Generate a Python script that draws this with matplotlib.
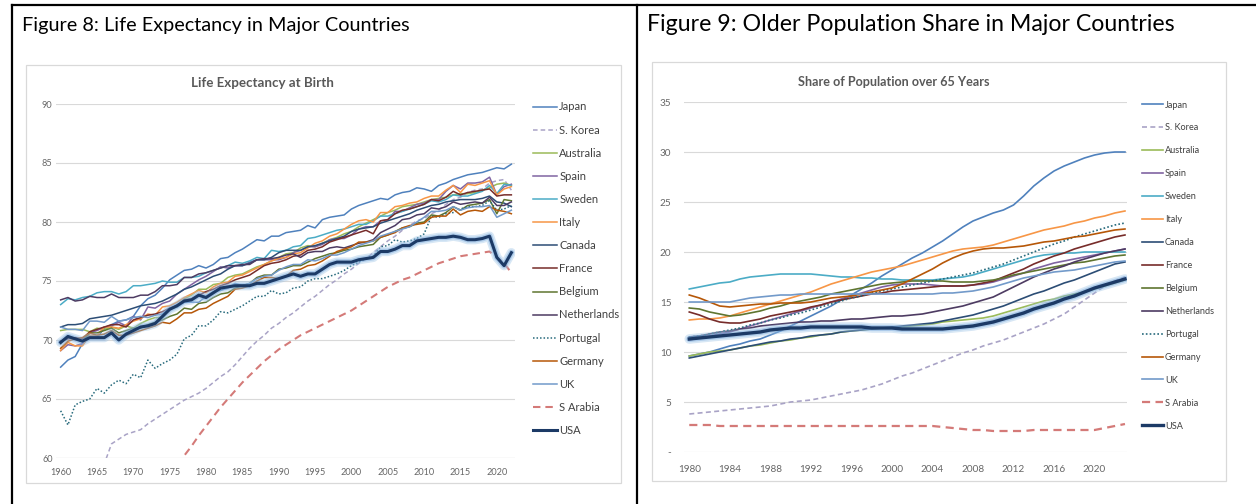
import matplotlib
matplotlib.use('Agg')
import matplotlib.pyplot as plt
from matplotlib.lines import Line2D
from matplotlib.patches import Rectangle
from matplotlib.ticker import FuncFormatter

plt.rcParams['font.family'] = ['Lato', 'DejaVu Sans']

# ---------------- data ----------------
countries = ['Japan', 'S. Korea', 'Australia', 'Spain', 'Sweden', 'Italy', 'Canada',
             'France', 'Belgium', 'Netherlands', 'Portugal', 'Germany', 'UK',
             'S Arabia', 'USA']

le_years = list(range(1960, 2023))
le_japan = [67.7, 68.3, 68.6, 69.7, 70.2, 70.2, 71.0, 71.3, 71.6, 71.7,
            72.0, 72.9, 73.5, 73.8, 74.4, 75.1, 75.5, 75.9, 76.0, 76.3,
            76.1, 76.4, 76.9, 77.0, 77.4, 77.7, 78.1, 78.5, 78.4, 78.8,
            78.8, 79.1, 79.2, 79.3, 79.7, 79.5, 80.2, 80.4, 80.5, 80.6,
            81.1, 81.4, 81.6, 81.8, 82.0, 81.9, 82.3, 82.5, 82.6, 82.9,
            82.8, 82.6, 83.1, 83.3, 83.6, 83.8, 84.0, 84.1, 84.2, 84.4,
            84.6, 84.5, 84.9]
le_skorea = [55.4, 56.1, 56.8, 57.5, 58.1, 58.8, 59.5, 61.2, 61.6, 62.0,
             62.2, 62.4, 62.9, 63.3, 63.7, 64.1, 64.5, 64.9, 65.2, 65.5,
             65.9, 66.4, 66.9, 67.3, 67.9, 68.6, 69.3, 69.9, 70.4, 71.0,
             71.4, 71.9, 72.3, 72.8, 73.3, 73.7, 74.2, 74.7, 75.1, 75.6,
             76.0, 76.5, 76.9, 77.4, 77.9, 78.4, 78.8, 79.3, 79.7, 80.1,
             80.3, 80.7, 81.0, 81.5, 81.9, 82.1, 82.5, 82.7, 82.8, 83.3,
             83.5, 83.6, 82.7]
le_australia = [70.8, 70.9, 70.9, 70.9, 70.7, 71.0, 70.9, 71.1, 70.9, 71.2,
                71.0, 71.4, 71.7, 71.9, 71.9, 72.6, 72.8, 73.5, 73.8, 74.3,
                74.3, 74.7, 74.8, 75.3, 75.5, 75.6, 75.9, 76.2, 76.4, 76.7,
                77.0, 77.3, 77.4, 77.8, 78.0, 77.9, 78.2, 78.5, 78.7, 79.0,
                79.2, 79.6, 79.9, 80.2, 80.5, 80.8, 81.0, 81.3, 81.4, 81.5,
                81.7, 81.9, 82.0, 82.1, 82.3, 82.4, 82.4, 82.5, 82.7, 82.9,
                83.2, 83.3, 83.1]
le_spain = [69.1, 69.6, 69.5, 69.7, 70.6, 70.8, 71.1, 71.2, 71.5, 71.2,
            72.0, 71.7, 72.8, 72.7, 73.1, 73.3, 73.9, 74.3, 74.7, 75.1,
            75.4, 75.8, 76.2, 76.1, 76.3, 76.3, 76.6, 76.8, 76.8, 76.8,
            76.8, 77.0, 77.4, 77.6, 77.9, 77.9, 78.1, 78.5, 78.6, 78.6,
            78.9, 79.4, 79.6, 79.6, 80.1, 80.2, 80.9, 80.9, 81.2, 81.5,
            81.6, 81.9, 81.9, 82.6, 83.1, 82.8, 83.3, 83.3, 83.4, 83.8,
            82.3, 83.0, 83.2]
le_sweden = [73.0, 73.5, 73.4, 73.6, 73.7, 74.0, 74.1, 74.1, 73.9, 74.1,
             74.6, 74.6, 74.7, 74.8, 75.0, 74.9, 74.9, 75.3, 75.3, 75.4,
             75.7, 75.9, 76.1, 76.3, 76.6, 76.5, 76.7, 77.0, 76.9, 77.6,
             77.5, 77.6, 77.9, 78.0, 78.6, 78.7, 78.9, 79.1, 79.3, 79.4,
             79.6, 79.8, 79.8, 80.1, 80.5, 80.5, 80.7, 80.9, 81.1, 81.3,
             81.5, 81.8, 81.7, 81.9, 82.3, 82.2, 82.2, 82.4, 82.6, 83.1,
             82.4, 83.2, 83.1]
le_italy = [69.1, 69.8, 69.5, 69.5, 70.4, 70.4, 71.1, 71.1, 71.0, 71.3,
            71.6, 71.8, 72.2, 72.1, 72.8, 72.9, 73.2, 73.6, 73.9, 74.2,
            74.0, 74.5, 74.8, 74.9, 75.4, 75.5, 75.8, 76.1, 76.4, 76.7,
            76.9, 77.0, 77.3, 77.4, 77.8, 78.2, 78.4, 78.8, 79.0, 79.4,
            79.8, 80.1, 80.2, 80.0, 80.8, 80.8, 81.3, 81.4, 81.6, 81.7,
            82.0, 82.2, 82.2, 82.7, 83.1, 82.5, 83.2, 83.1, 83.3, 83.5,
            82.3, 82.8, 83.0]
le_canada = [71.1, 71.3, 71.3, 71.4, 71.8, 71.9, 72.0, 72.1, 72.3, 72.5,
             72.7, 72.9, 73.0, 73.1, 73.3, 73.6, 73.9, 74.3, 74.5, 74.8,
             75.1, 75.4, 75.6, 76.0, 76.3, 76.3, 76.5, 76.8, 76.8, 77.0,
             77.4, 77.6, 77.6, 77.6, 77.9, 78.0, 78.2, 78.4, 78.6, 78.8,
             79.2, 79.4, 79.5, 79.6, 79.9, 80.1, 80.3, 80.5, 80.7, 81.0,
             81.2, 81.4, 81.5, 81.7, 81.8, 81.9, 81.9, 81.9, 82.0, 82.2,
             81.7, 81.6, 81.3]
le_france = [69.9, 70.1, 70.2, 70.1, 70.7, 70.9, 71.1, 71.3, 71.3, 71.1,
             71.7, 71.9, 72.1, 72.2, 72.4, 72.7, 72.9, 73.4, 73.5, 73.8,
             74.1, 74.3, 74.6, 74.8, 75.1, 75.3, 75.5, 75.9, 76.3, 76.5,
             76.6, 76.8, 77.1, 77.2, 77.6, 77.7, 77.9, 78.3, 78.5, 78.7,
             78.9, 79.1, 79.3, 79.0, 80.1, 80.2, 80.7, 81.0, 81.1, 81.3,
             81.5, 81.9, 81.8, 82.1, 82.6, 82.3, 82.5, 82.6, 82.7, 82.8,
             82.2, 82.3, 82.3]
le_belgium = [69.7, 70.3, 70.1, 69.9, 70.6, 70.6, 70.8, 71.0, 70.6, 70.8,
              71.0, 71.0, 71.3, 71.5, 71.7, 72.0, 72.2, 72.7, 72.6, 73.1,
              73.2, 73.6, 73.9, 74.0, 74.4, 74.6, 74.8, 75.3, 75.5, 75.5,
              76.0, 76.1, 76.3, 76.3, 76.6, 76.9, 77.1, 77.3, 77.4, 77.6,
              77.7, 77.9, 78.0, 78.1, 78.7, 78.9, 79.2, 79.5, 79.6, 79.9,
              80.0, 80.6, 80.5, 80.8, 81.3, 81.0, 81.4, 81.5, 81.6, 81.9,
              80.7, 81.9, 81.8]
le_netherlands = [73.4, 73.6, 73.3, 73.4, 73.7, 73.6, 73.6, 73.9, 73.6, 73.6,
                  73.6, 73.8, 73.8, 74.1, 74.6, 74.6, 74.7, 75.3, 75.3, 75.6,
                  75.7, 75.9, 76.1, 76.3, 76.3, 76.4, 76.4, 76.8, 76.9, 76.9,
                  77.0, 77.2, 77.3, 77.0, 77.4, 77.5, 77.5, 77.8, 77.9, 77.8,
                  78.0, 78.2, 78.3, 78.5, 79.1, 79.4, 79.7, 80.2, 80.3, 80.6,
                  80.7, 81.2, 81.1, 81.3, 81.7, 81.5, 81.6, 81.7, 81.6, 82.1,
                  81.4, 81.4, 81.7]
le_portugal = [64.0, 62.8, 64.5, 64.8, 65.0, 65.9, 65.5, 66.2, 66.6, 66.3,
               67.1, 66.8, 68.3, 67.6, 68.0, 68.3, 68.8, 70.1, 70.4, 71.2,
               71.2, 71.7, 72.4, 72.3, 72.6, 72.9, 73.3, 73.7, 73.7, 74.2,
               73.9, 74.0, 74.4, 74.5, 75.0, 75.2, 75.2, 75.4, 75.6, 75.9,
               76.3, 76.6, 76.9, 77.1, 77.9, 78.0, 78.5, 78.3, 78.4, 78.6,
               79.0, 80.5, 80.4, 80.7, 80.8, 81.1, 81.3, 81.3, 81.4, 81.8,
               81.0, 81.1, 81.4]
le_germany = [69.3, 69.9, 70.1, 70.2, 70.6, 70.4, 70.5, 70.8, 70.4, 70.4,
              70.6, 70.8, 71.0, 71.2, 71.5, 71.4, 71.8, 72.3, 72.3, 72.6,
              72.7, 73.1, 73.4, 73.7, 74.3, 74.4, 74.6, 75.0, 75.3, 75.3,
              75.2, 75.4, 75.9, 76.0, 76.3, 76.4, 76.7, 77.1, 77.5, 77.7,
              77.9, 78.3, 78.3, 78.4, 78.7, 78.9, 79.1, 79.5, 79.7, 79.8,
              79.9, 80.4, 80.5, 80.5, 81.1, 80.6, 80.9, 81.0, 80.9, 81.3,
              81.0, 80.9, 80.7]
le_uk = [71.1, 70.9, 70.9, 70.8, 71.6, 71.6, 71.5, 72.0, 71.6, 71.7,
         71.9, 72.0, 71.9, 72.1, 72.2, 72.7, 72.8, 73.2, 73.2, 73.2,
         73.7, 74.1, 74.2, 74.4, 74.8, 74.6, 74.8, 75.2, 75.4, 75.5,
         75.9, 76.2, 76.4, 76.4, 76.8, 76.7, 76.9, 77.2, 77.2, 77.4,
         77.7, 78.0, 78.2, 78.4, 78.8, 79.0, 79.2, 79.4, 79.6, 80.0,
         80.4, 80.9, 80.9, 81.0, 81.3, 81.0, 81.2, 81.3, 81.3, 81.4,
         80.4, 80.7, 81.0]
le_sarabia = [45.7, 46.3, 46.9, 47.6, 48.4, 49.2, 50.1, 51.0, 52.0, 53.0,
              53.9, 54.9, 55.9, 56.8, 57.7, 58.6, 59.4, 60.2, 61.0, 61.9,
              62.7, 63.5, 64.3, 65.0, 65.7, 66.4, 67.0, 67.6, 68.2, 68.7,
              69.2, 69.6, 70.0, 70.4, 70.7, 71.0, 71.3, 71.6, 71.9, 72.2,
              72.5, 72.9, 73.3, 73.7, 74.1, 74.5, 74.8, 75.1, 75.3, 75.6,
              75.9, 76.2, 76.5, 76.7, 76.9, 77.1, 77.2, 77.3, 77.4, 77.5,
              77.0, 76.5, 75.7]
le_usa = [69.8, 70.3, 70.1, 69.9, 70.2, 70.2, 70.2, 70.6, 70.0, 70.5,
          70.8, 71.1, 71.2, 71.4, 72.0, 72.6, 72.9, 73.3, 73.4, 73.8,
          73.6, 74.0, 74.4, 74.5, 74.6, 74.6, 74.6, 74.8, 74.8, 75.0,
          75.2, 75.4, 75.6, 75.4, 75.6, 75.6, 76.0, 76.4, 76.6, 76.6,
          76.6, 76.8, 76.9, 77.0, 77.5, 77.5, 77.7, 78.0, 78.0, 78.4,
          78.5, 78.6, 78.7, 78.7, 78.8, 78.7, 78.5, 78.5, 78.6, 78.8,
          77.0, 76.3, 77.4]

pop_years = list(range(1980, 2024))
pop_japan = [9.6, 9.8, 10.0, 10.3, 10.6, 10.8, 11.1, 11.3, 11.7, 12.1,
             12.6, 13.1, 13.6, 14.1, 14.6, 15.2, 15.7, 16.3, 16.9, 17.6,
             18.2, 18.8, 19.4, 19.9, 20.5, 21.1, 21.8, 22.5, 23.1, 23.5,
             23.9, 24.2, 24.7, 25.6, 26.6, 27.4, 28.1, 28.6, 29.0, 29.4,
             29.7, 29.9, 30.0, 30.0]
pop_skorea = [3.8, 3.9, 4.0, 4.1, 4.2, 4.3, 4.4, 4.5, 4.6, 4.8,
              5.0, 5.1, 5.2, 5.4, 5.6, 5.8, 6.0, 6.2, 6.5, 6.8,
              7.2, 7.6, 7.9, 8.3, 8.7, 9.1, 9.5, 9.9, 10.2, 10.6,
              10.9, 11.2, 11.6, 12.0, 12.4, 12.8, 13.3, 13.8, 14.5, 15.2,
              15.9, 16.6, 17.1, 17.5]
pop_australia = [9.6, 9.8, 10.0, 10.1, 10.2, 10.4, 10.6, 10.7, 10.9, 11.1,
                 11.2, 11.4, 11.5, 11.7, 11.8, 12.0, 12.1, 12.2, 12.3, 12.4,
                 12.4, 12.5, 12.6, 12.7, 12.8, 13.0, 13.1, 13.2, 13.3, 13.4,
                 13.6, 13.9, 14.2, 14.5, 14.8, 15.1, 15.3, 15.6, 15.8, 16.0,
                 16.3, 16.6, 16.9, 17.2]
pop_spain = [11.2, 11.4, 11.6, 11.8, 12.0, 12.3, 12.6, 12.9, 13.2, 13.5,
             13.8, 14.1, 14.4, 14.7, 15.0, 15.3, 15.6, 15.9, 16.2, 16.5,
             16.7, 16.8, 16.8, 16.8, 16.7, 16.6, 16.6, 16.6, 16.7, 16.8,
             17.0, 17.3, 17.6, 17.9, 18.3, 18.6, 18.9, 19.1, 19.3, 19.5,
             19.7, 19.9, 20.1, 20.3]
pop_sweden = [16.3, 16.5, 16.7, 16.9, 17.0, 17.3, 17.5, 17.6, 17.7, 17.8,
              17.8, 17.8, 17.8, 17.7, 17.6, 17.5, 17.5, 17.4, 17.4, 17.3,
              17.3, 17.2, 17.2, 17.2, 17.2, 17.3, 17.4, 17.5, 17.7, 18.0,
              18.3, 18.6, 18.9, 19.2, 19.5, 19.7, 19.8, 19.9, 19.9, 20.0,
              20.0, 20.0, 20.0, 20.0]
pop_italy = [13.2, 13.3, 13.3, 13.4, 13.6, 13.9, 14.2, 14.5, 14.8, 15.1,
             15.4, 15.7, 16.0, 16.4, 16.8, 17.1, 17.4, 17.7, 18.0, 18.2,
             18.4, 18.6, 18.9, 19.2, 19.5, 19.8, 20.1, 20.3, 20.4, 20.5,
             20.7, 21.0, 21.3, 21.6, 21.9, 22.2, 22.4, 22.6, 22.9, 23.1,
             23.4, 23.6, 23.9, 24.1]
pop_canada = [9.4, 9.6, 9.8, 10.0, 10.2, 10.4, 10.6, 10.8, 11.0, 11.1,
              11.3, 11.4, 11.6, 11.7, 11.8, 12.0, 12.1, 12.2, 12.3, 12.4,
              12.5, 12.6, 12.7, 12.8, 12.9, 13.1, 13.3, 13.5, 13.7, 14.0,
              14.3, 14.6, 15.0, 15.4, 15.8, 16.1, 16.5, 16.9, 17.2, 17.6,
              18.0, 18.4, 18.8, 19.0]
pop_france = [14.0, 13.7, 13.3, 13.0, 12.9, 12.9, 13.1, 13.3, 13.6, 13.8,
              14.0, 14.2, 14.5, 14.7, 15.0, 15.2, 15.4, 15.6, 15.8, 15.9,
              16.1, 16.2, 16.3, 16.4, 16.5, 16.6, 16.6, 16.6, 16.7, 16.9,
              17.1, 17.5, 17.9, 18.3, 18.8, 19.2, 19.6, 19.9, 20.3, 20.6,
              20.9, 21.2, 21.5, 21.7]
pop_belgium = [14.4, 14.3, 14.0, 13.8, 13.6, 13.7, 13.9, 14.1, 14.4, 14.6,
               14.9, 15.1, 15.3, 15.5, 15.8, 16.0, 16.2, 16.4, 16.6, 16.8,
               16.9, 17.0, 17.1, 17.1, 17.1, 17.1, 17.0, 17.0, 17.0, 17.1,
               17.2, 17.4, 17.7, 17.9, 18.1, 18.3, 18.5, 18.7, 18.9, 19.0,
               19.2, 19.4, 19.6, 19.7]
pop_netherlands = [11.5, 11.6, 11.8, 12.0, 12.1, 12.3, 12.4, 12.6, 12.7, 12.8,
                   12.9, 13.0, 13.0, 13.1, 13.1, 13.2, 13.3, 13.3, 13.4, 13.5,
                   13.6, 13.6, 13.7, 13.8, 14.0, 14.2, 14.4, 14.6, 14.9, 15.2,
                   15.5, 16.0, 16.5, 17.0, 17.5, 17.9, 18.3, 18.6, 19.0, 19.3,
                   19.6, 19.9, 20.1, 20.3]
pop_portugal = [11.5, 11.6, 11.8, 12.0, 12.2, 12.4, 12.7, 12.9, 13.2, 13.4,
                13.7, 13.9, 14.2, 14.5, 14.8, 15.1, 15.4, 15.6, 15.9, 16.1,
                16.3, 16.5, 16.7, 16.9, 17.1, 17.3, 17.5, 17.7, 17.9, 18.2,
                18.5, 18.8, 19.2, 19.6, 20.0, 20.4, 20.8, 21.1, 21.5, 21.8,
                22.1, 22.4, 22.7, 22.9]
pop_germany = [15.7, 15.4, 15.0, 14.6, 14.5, 14.6, 14.7, 14.8, 14.8, 14.9,
               14.9, 14.9, 15.0, 15.2, 15.4, 15.5, 15.6, 15.8, 16.0, 16.2,
               16.4, 16.8, 17.3, 17.8, 18.3, 18.9, 19.4, 19.8, 20.1, 20.3,
               20.4, 20.4, 20.5, 20.6, 20.8, 21.0, 21.1, 21.3, 21.5, 21.6,
               21.8, 22.0, 22.2, 22.3]
pop_uk = [15.0, 15.0, 15.0, 15.0, 15.0, 15.2, 15.4, 15.5, 15.6, 15.7,
          15.7, 15.8, 15.8, 15.8, 15.8, 15.8, 15.8, 15.8, 15.8, 15.8,
          15.8, 15.8, 15.8, 15.8, 15.8, 15.9, 15.9, 16.0, 16.1, 16.3,
          16.5, 16.8, 17.1, 17.4, 17.6, 17.8, 18.0, 18.1, 18.2, 18.4,
          18.6, 18.8, 19.0, 19.1]
pop_sarabia = [2.7, 2.7, 2.7, 2.6, 2.6, 2.6, 2.6, 2.6, 2.6, 2.6,
               2.6, 2.6, 2.6, 2.6, 2.6, 2.6, 2.6, 2.6, 2.6, 2.6,
               2.6, 2.6, 2.6, 2.6, 2.6, 2.5, 2.4, 2.3, 2.2, 2.2,
               2.1, 2.1, 2.1, 2.1, 2.2, 2.2, 2.2, 2.2, 2.2, 2.2,
               2.2, 2.4, 2.6, 2.8]
pop_usa = [11.3, 11.4, 11.5, 11.6, 11.7, 11.8, 11.9, 12.0, 12.2, 12.3,
           12.4, 12.4, 12.5, 12.5, 12.5, 12.5, 12.5, 12.5, 12.4, 12.4,
           12.4, 12.3, 12.3, 12.3, 12.3, 12.3, 12.4, 12.5, 12.6, 12.8,
           13.0, 13.3, 13.6, 13.9, 14.3, 14.6, 14.9, 15.3, 15.6, 16.0,
           16.4, 16.7, 17.0, 17.3]

le_series = [le_japan, le_skorea, le_australia, le_spain, le_sweden, le_italy,
             le_canada, le_france, le_belgium, le_netherlands, le_portugal,
             le_germany, le_uk, le_sarabia, le_usa]
pop_series = [pop_japan, pop_skorea, pop_australia, pop_spain, pop_sweden, pop_italy,
              pop_canada, pop_france, pop_belgium, pop_netherlands, pop_portugal,
              pop_germany, pop_uk, pop_sarabia, pop_usa]

le_yticks = [60, 65, 70, 75, 80, 85, 90]
le_xticks = list(range(1960, 2021, 5))
pop_yticks = [0, 5, 10, 15, 20, 25, 30, 35]
pop_xticks = list(range(1980, 2021, 4))

# ---------------- styles ----------------
colors = {'Japan': '#4F81BD', 'S. Korea': '#A9A3C6', 'Australia': '#9BBB59',
          'Spain': '#8064A2', 'Sweden': '#4BACC6', 'Italy': '#F79646',
          'Canada': '#2C4D75', 'France': '#772C2A', 'Belgium': '#5F7530',
          'Netherlands': '#4D3B62', 'Portugal': '#276A7C', 'Germany': '#B65708',
          'UK': '#729ACA', 'S Arabia': '#D47A78', 'USA': '#1C3A66'}
dashes = {'S. Korea': (3, 2), 'Portugal': (1, 1.3), 'S Arabia': (3.6, 2.4)}

W, H = 1256, 504
fig = plt.figure(figsize=(W / 100, H / 100), dpi=100)
fig.patch.set_facecolor('white')


def fx(px):
    return px / W


def fy(py):
    return 1 - py / H


# outer black frame lines
for xs, ys in [((12, 1256), (5, 5)), ((12, 12), (5, 504)), ((637, 637), (5, 504))]:
    fig.add_artist(Line2D([fx(xs[0]), fx(xs[1])], [fy(ys[0]), fy(ys[1])],
                          transform=fig.transFigure, color='black', lw=1.6))

# chart frames
for (x0, y0, x1, y1) in [(26, 65, 621, 483), (652, 62, 1226, 481)]:
    fig.add_artist(Rectangle((fx(x0), fy(y1)), fx(x1 - x0), (y1 - y0) / H,
                             transform=fig.transFigure, fill=False,
                             edgecolor='#D9D9D9', lw=0.9))

renderer = fig.canvas.get_renderer()


def fit_text(x, y, s, target_w, **kw):
    t = fig.text(x, y, s, **kw)
    w = t.get_window_extent(renderer=renderer).width
    t.set_fontsize(t.get_fontsize() * target_w / w)
    return t


fit_text(fx(22), fy(31), 'Figure 8: Life Expectancy in Major Countries', 388,
         fontsize=16, color='black', ha='left', va='baseline')
fit_text(fx(647), fy(31), 'Figure 9: Older Population Share in Major Countries', 530,
         fontsize=16, color='black', ha='left', va='baseline')
fit_text(fx(262.5), fy(83), 'Life Expectancy at Birth', 142,
         fontsize=10, color='#595959', fontweight='bold', ha='center', va='center')
fit_text(fx(894), fy(82), 'Share of Population over 65 Years', 192,
         fontsize=10, color='#595959', fontweight='bold', ha='center', va='center')


def style_axes(ax, yticks, xticks, tick_fs, ypad, xpad, yfmt):
    for s in ax.spines.values():
        s.set_visible(False)
    ax.set_yticks(yticks)
    ax.set_xticks(xticks)
    ax.yaxis.set_major_formatter(FuncFormatter(yfmt))
    ax.grid(axis='y', color='#D9D9D9', lw=0.8)
    ax.set_axisbelow(True)
    ax.tick_params(axis='both', length=0, labelsize=tick_fs, colors='#666666')
    ax.tick_params(axis='y', pad=ypad)
    ax.tick_params(axis='x', pad=xpad)
    ax.set_facecolor('none')


def draw_lines(ax, years, series, lw, usa_lw):
    handles = []
    for name, vals in zip(countries, series):
        if name == 'USA':
            ax.plot(years, vals, color='#9DC3E6', lw=usa_lw + 4.5, alpha=0.4,
                    solid_capstyle='round', label='_nolegend_')
            ax.plot(years, vals, color='#6FA3DA', lw=usa_lw + 2, alpha=0.4,
                    solid_capstyle='round', label='_nolegend_')
            h, = ax.plot(years, vals, color=colors[name], lw=usa_lw, label=name)
        else:
            kw = {}
            if name in dashes:
                kw['dashes'] = dashes[name]
            this_lw = lw * (1.35 if name == 'S Arabia' else 1.0)
            h, = ax.plot(years, vals, color=colors[name], lw=this_lw, label=name, **kw)
        handles.append(h)
    return handles


# ---------------- left chart ----------------
axL = fig.add_axes([fx(56), fy(458), fx(515 - 56), (458 - 104) / H])
hL = draw_lines(axL, le_years, le_series, 1.1, 2.2)
axL.set_ylim(60, 90)
axL.set_xlim(1959.36, 2022.5)
style_axes(axL, le_yticks, le_xticks, 6.6, 2.5, 7.5, lambda v, p: f'{v:.0f}')
axL.axhline(60, color='#BFBFBF', lw=0.8, zorder=0)
legL = axL.legend(hL, countries, loc='upper left', bbox_to_anchor=(fx(533), fy(101.5)),
                  bbox_transform=fig.transFigure, frameon=False, fontsize=8.0,
                  handlelength=2.15, handletextpad=0.2, labelspacing=1.09,
                  borderpad=0, borderaxespad=0)
for t in legL.get_texts():
    t.set_color('#404040')

# ---------------- right chart ----------------
axR = fig.add_axes([fx(684), fy(452), fx(1127 - 684), (452 - 102) / H])
hR = draw_lines(axR, pop_years, pop_series, 1.2, 2.4)
axR.set_ylim(0, 35)
axR.set_xlim(1979.48, 2023.2)
style_axes(axR, pop_yticks, pop_xticks, 7.2, 9, 9.5,
           lambda v, p: '-' if v == 0 else f'{v:.0f}')
legR = axR.legend(hR, countries, loc='upper left', bbox_to_anchor=(fx(1142), fy(100.5)),
                  bbox_transform=fig.transFigure, frameon=False, fontsize=6.6,
                  handlelength=2.3, handletextpad=0.2, labelspacing=1.52,
                  borderpad=0, borderaxespad=0)
for t in legR.get_texts():
    t.set_color('#404040')

fig.savefig('out.png', dpi=100, facecolor='white')
